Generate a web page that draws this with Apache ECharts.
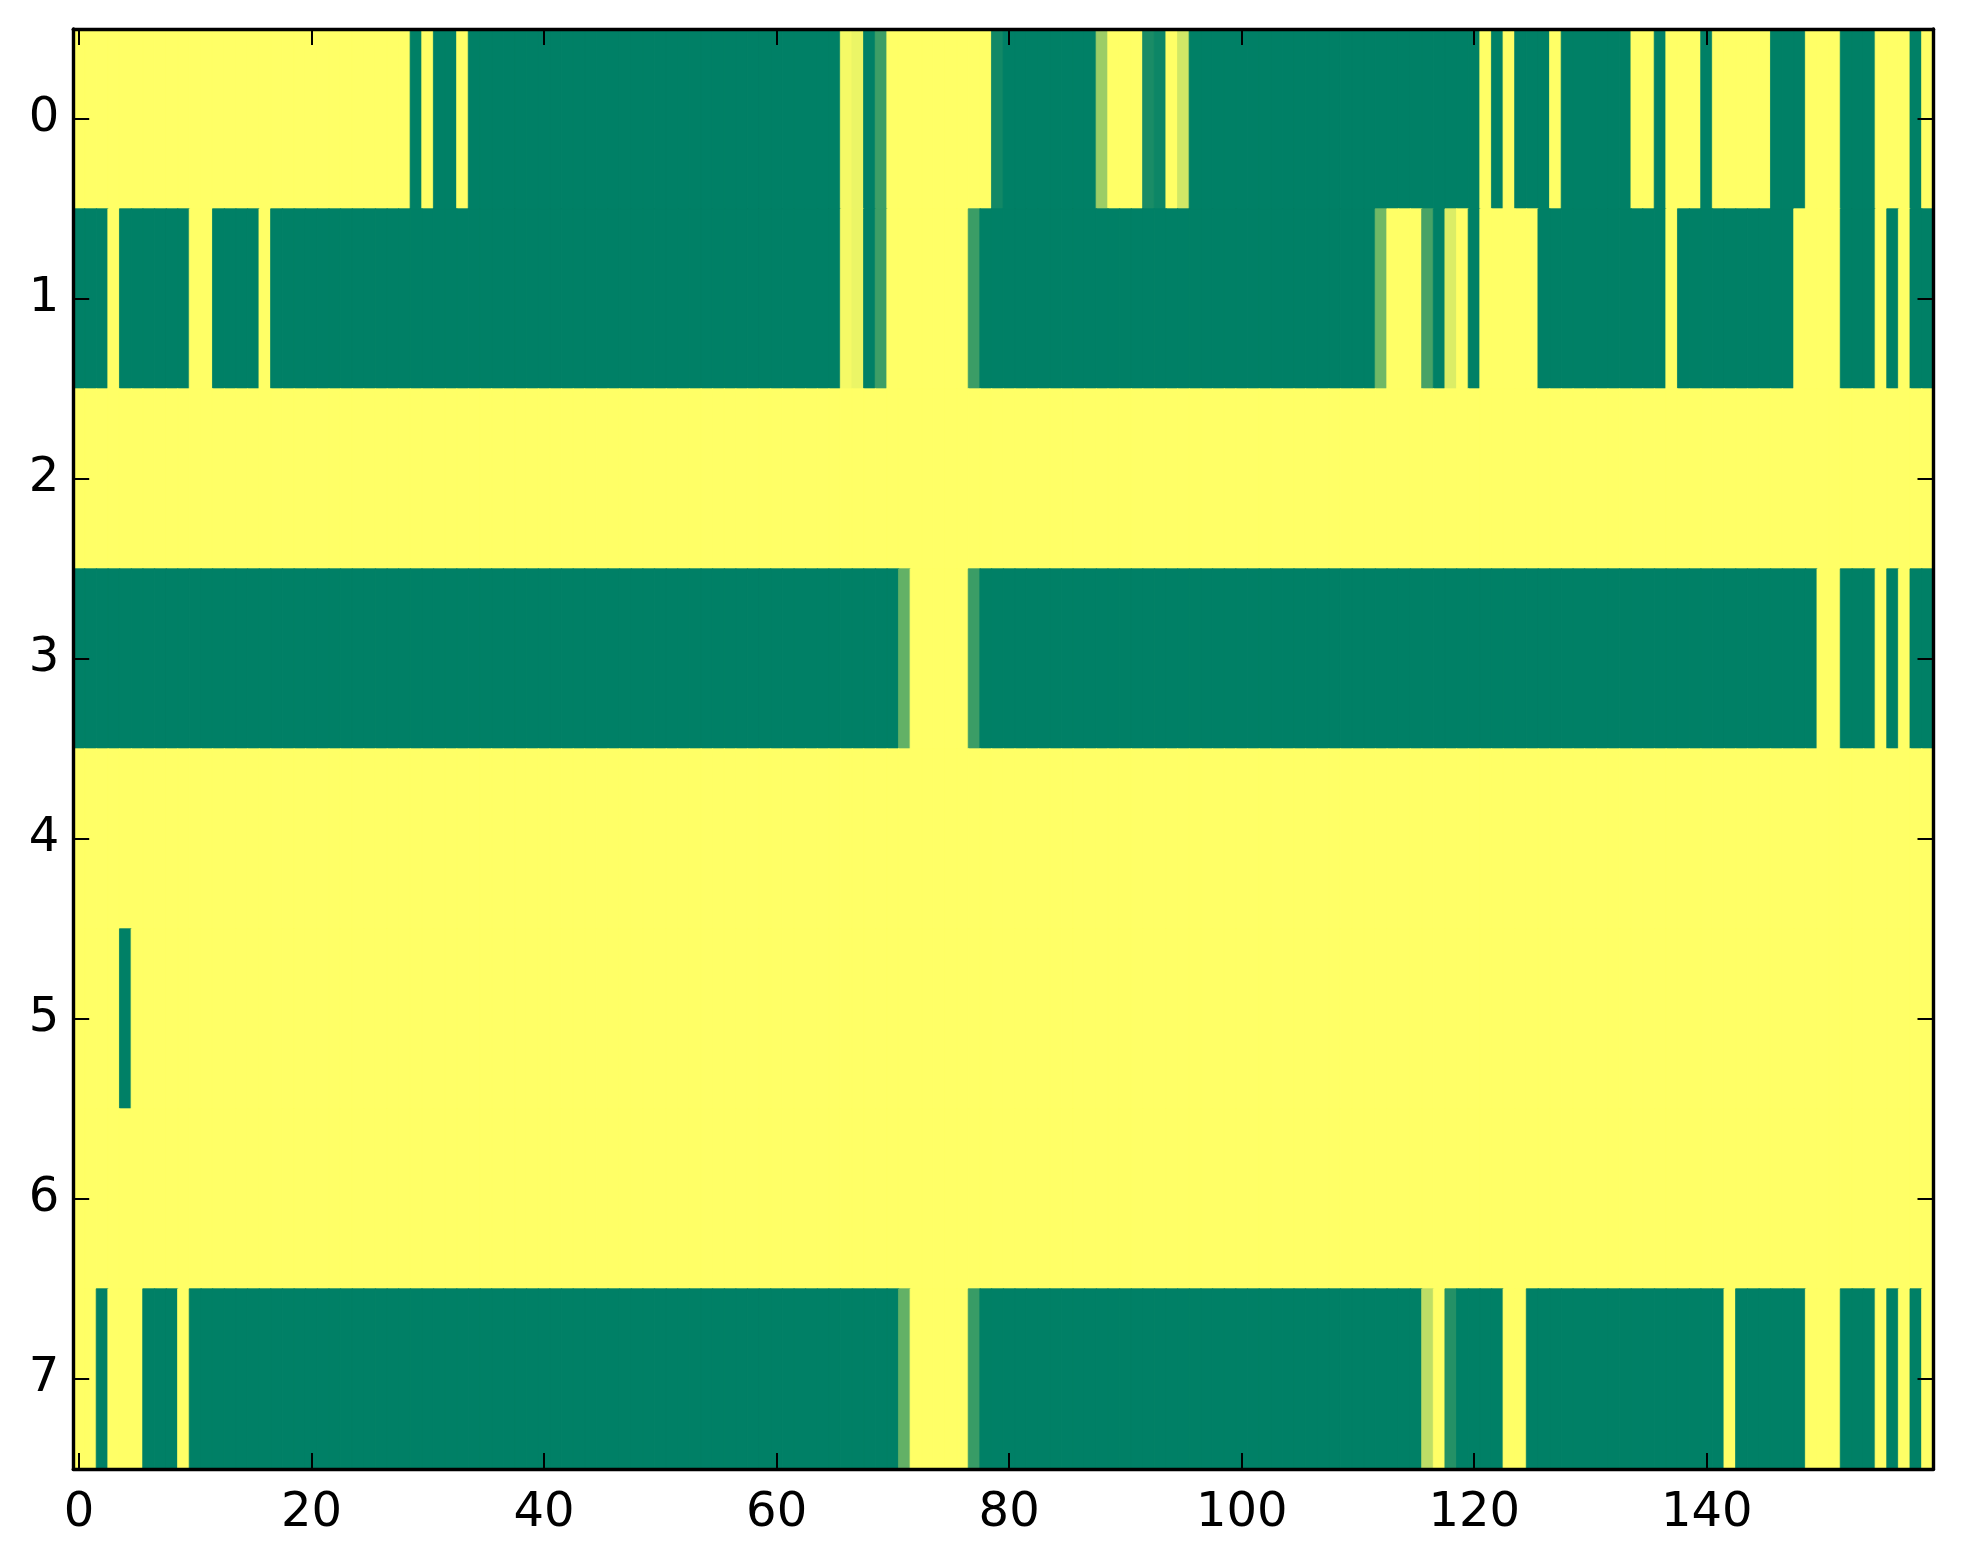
<!DOCTYPE html>
<html>
<head>
<meta charset="utf-8">
<script src="https://cdn.jsdelivr.net/npm/echarts@6/dist/echarts.min.js"></script>
<style>
html, body { margin: 0; padding: 0; background: #ffffff; }
#chart { width: 1963px; height: 1564px; }
</style>
</head>
<body>
<div id="chart"></div>
<script>
// Column indices 0..159 and row indices 0..7
var xCategories = [];
for (var i = 0; i < 160; i++) { xCategories.push(String(i)); }
var yCategories = ['0', '1', '2', '3', '4', '5', '6', '7'];

var row0 = [
  1,1,1,1,1,1,1,1,1,1,1,1,1,1,1,1,1,1,1,1,
  1,1,1,1,1,1,1,1,1,0,1,0,0,1,0,0,0,0,0,0,
  0,0,0,0,0,0,0,0,0,0,0,0,0,0,0,0,0,0,0,0,
  0,0,0,0,0,0,0.96,0.92,0,0.24,1,1,1,1,1,1,1,1,1,0.07,
  0,0,0,0,0,0,0,0,0.61,1,1,1,0.1,0.05,1,0.82,0,0,0,0,
  0,0,0,0,0,0,0,0,0,0,0,0,0,0,0,0,0,0,0,0,
  0,1,0,1,0,0,0,1,0,0,0,0,0,0,1,1,0,1,1,1,
  0,1,1,1,1,1,0,0,0,1,1,1,0,0,0,1,1,1,0,1
];
var row1 = [
  0,0,0,1,0,0,0,0,0,0,1,1,0,0,0,0,1,0,0,0,
  0,0,0,0,0,0,0,0,0,0,0,0,0,0,0,0,0,0,0,0,
  0,0,0,0,0,0,0,0,0,0,0,0,0,0,0,0,0,0,0,0,
  0,0,0,0,0,0,0.96,0.92,0,0.24,1,1,1,1,1,1,1,0.23,0,0,
  0,0,0,0,0,0,0,0,0,0,0,0,0,0,0,0,0,0,0,0,
  0,0,0,0,0,0,0,0,0,0,0,0,0.44,1,1,1,0.28,0,0.86,1,
  0,1,1,1,1,1,0,0,0,0,0,0,0,0,0,0,0,1,0,0,
  0,0,0,0,0,0,0,0,1,1,1,1,0,0,0,1,0,1,0,0
];
var row2 = [
  1,1,1,1,1,1,1,1,1,1,1,1,1,1,1,1,1,1,1,1,
  1,1,1,1,1,1,1,1,1,1,1,1,1,1,1,1,1,1,1,1,
  1,1,1,1,1,1,1,1,1,1,1,1,1,1,1,1,1,1,1,1,
  1,1,1,1,1,1,1,1,1,1,1,1,1,1,1,1,1,1,1,1,
  1,1,1,1,1,1,1,1,1,1,1,1,1,1,1,1,1,1,1,1,
  1,1,1,1,1,1,1,1,1,1,1,1,1,1,1,1,1,1,1,1,
  1,1,1,1,1,1,1,1,1,1,1,1,1,1,1,1,1,1,1,1,
  1,1,1,1,1,1,1,1,1,1,1,1,1,1,1,1,1,1,1,1
];
var row3 = [
  0,0,0,0,0,0,0,0,0,0,0,0,0,0,0,0,0,0,0,0,
  0,0,0,0,0,0,0,0,0,0,0,0,0,0,0,0,0,0,0,0,
  0,0,0,0,0,0,0,0,0,0,0,0,0,0,0,0,0,0,0,0,
  0,0,0,0,0,0,0,0,0,0,0,0.39,1,1,1,1,1,0.23,0,0,
  0,0,0,0,0,0,0,0,0,0,0,0,0,0,0,0,0,0,0,0,
  0,0,0,0,0,0,0,0,0,0,0,0,0,0,0,0,0,0,0,0,
  0,0,0,0,0,0,0,0,0,0,0,0,0,0,0,0,0,0,0,0,
  0,0,0,0,0,0,0,0,0,0,1,1,0,0,0,1,0,1,0,0
];
var row4 = [
  1,1,1,1,1,1,1,1,1,1,1,1,1,1,1,1,1,1,1,1,
  1,1,1,1,1,1,1,1,1,1,1,1,1,1,1,1,1,1,1,1,
  1,1,1,1,1,1,1,1,1,1,1,1,1,1,1,1,1,1,1,1,
  1,1,1,1,1,1,1,1,1,1,1,1,1,1,1,1,1,1,1,1,
  1,1,1,1,1,1,1,1,1,1,1,1,1,1,1,1,1,1,1,1,
  1,1,1,1,1,1,1,1,1,1,1,1,1,1,1,1,1,1,1,1,
  1,1,1,1,1,1,1,1,1,1,1,1,1,1,1,1,1,1,1,1,
  1,1,1,1,1,1,1,1,1,1,1,1,1,1,1,1,1,1,1,1
];
var row5 = [
  1,1,1,1,0,1,1,1,1,1,1,1,1,1,1,1,1,1,1,1,
  1,1,1,1,1,1,1,1,1,1,1,1,1,1,1,1,1,1,1,1,
  1,1,1,1,1,1,1,1,1,1,1,1,1,1,1,1,1,1,1,1,
  1,1,1,1,1,1,1,1,1,1,1,1,1,1,1,1,1,1,1,1,
  1,1,1,1,1,1,1,1,1,1,1,1,1,1,1,1,1,1,1,1,
  1,1,1,1,1,1,1,1,1,1,1,1,1,1,1,1,1,1,1,1,
  1,1,1,1,1,1,1,1,1,1,1,1,1,1,1,1,1,1,1,1,
  1,1,1,1,1,1,1,1,1,1,1,1,1,1,1,1,1,1,1,1
];
var row6 = [
  1,1,1,1,1,1,1,1,1,1,1,1,1,1,1,1,1,1,1,1,
  1,1,1,1,1,1,1,1,1,1,1,1,1,1,1,1,1,1,1,1,
  1,1,1,1,1,1,1,1,1,1,1,1,1,1,1,1,1,1,1,1,
  1,1,1,1,1,1,1,1,1,1,1,1,1,1,1,1,1,1,1,1,
  1,1,1,1,1,1,1,1,1,1,1,1,1,1,1,1,1,1,1,1,
  1,1,1,1,1,1,1,1,1,1,1,1,1,1,1,1,1,1,1,1,
  1,1,1,1,1,1,1,1,1,1,1,1,1,1,1,1,1,1,1,1,
  1,1,1,1,1,1,1,1,1,1,1,1,1,1,1,1,1,1,1,1
];
var row7 = [
  1,1,0,1,1,1,0,0,0,1,0,0,0,0,0,0,0,0,0,0,
  0,0,0,0,0,0,0,0,0,0,0,0,0,0,0,0,0,0,0,0,
  0,0,0,0,0,0,0,0,0,0,0,0,0,0,0,0,0,0,0,0,
  0,0,0,0,0,0,0,0,0,0,0,0.39,1,1,1,1,1,0.22,0,0,
  0,0,0,0,0,0,0,0,0,0,0,0,0,0,0,0,0,0,0,0,
  0,0,0,0,0,0,0,0,0,0,0,0,0,0,0,0,0.74,1,0.14,0,
  0,0,0,1,1,0,0,0,0,0,0,0,0,0,0,0,0,0,0,0,
  0,0,1,0,0,0,0,0,0,1,1,1,0,0,0,1,0,1,0,1
];

var rows = [row0, row1, row2, row3, row4, row5, row6, row7];

// matplotlib "summer" colormap: (v, 0.5 + 0.5 v, 0.4)
function summer(v) {
  var r = Math.round(255 * v);
  var g = Math.round(255 * (0.5 + 0.5 * v));
  var b = Math.round(255 * 0.4);
  return 'rgb(' + r + ',' + g + ',' + b + ')';
}

var heatData = [];
rows.forEach(function (row, r) {
  row.forEach(function (v, c) {
    var col = summer(v);
    heatData.push({ value: [c, r, v], itemStyle: { color: col, borderColor: col, borderWidth: 0.8 } });
  });
});

var FONT = 'DejaVu Sans';
function every20(idx) { return idx % 20 === 0; }
var axisLineStyle = { color: '#000', width: 3.4 };
var tickStyle = { color: '#000', width: 2 };

var chart = echarts.init(document.getElementById('chart'), null, { renderer: 'canvas' });
chart.setOption({
  animation: false,
  backgroundColor: '#ffffff',
  grid: { left: 73.2, top: 29, width: 1860.3, height: 1440, containLabel: false },
  xAxis: [
    {
      type: 'category', data: xCategories, position: 'bottom', z: 10,
      axisLine: { show: true, lineStyle: axisLineStyle },
      axisTick: { show: true, inside: true, length: 16, interval: every20, alignWithLabel: true, lineStyle: tickStyle },
      axisLabel: { show: true, interval: every20, fontSize: 48, fontFamily: FONT, color: '#000', margin: 21 },
      splitLine: { show: false }, splitArea: { show: false }
    },
    {
      type: 'category', data: xCategories, position: 'top', z: 10,
      axisLine: { show: true, lineStyle: axisLineStyle },
      axisTick: { show: true, inside: true, length: 16, interval: every20, alignWithLabel: true, lineStyle: tickStyle },
      axisLabel: { show: false },
      splitLine: { show: false }, splitArea: { show: false }
    }
  ],
  yAxis: [
    {
      type: 'category', data: yCategories, inverse: true, position: 'left', z: 10,
      axisLine: { show: true, lineStyle: axisLineStyle },
      axisTick: { show: true, inside: true, length: 16, alignWithLabel: true, lineStyle: tickStyle },
      axisLabel: { show: true, fontSize: 48, fontFamily: FONT, color: '#000', margin: 14 },
      splitLine: { show: false }, splitArea: { show: false }
    },
    {
      type: 'category', data: yCategories, inverse: true, position: 'right', z: 10,
      axisLine: { show: true, lineStyle: axisLineStyle },
      axisTick: { show: true, inside: true, length: 16, alignWithLabel: true, lineStyle: tickStyle },
      axisLabel: { show: false },
      splitLine: { show: false }, splitArea: { show: false }
    }
  ],
  series: [{
    type: 'heatmap',
    xAxisIndex: 0, yAxisIndex: 0,
    data: heatData,
    progressive: 0,
    emphasis: { disabled: true },
    z: 1
  }]
});
</script>
</body>
</html>
